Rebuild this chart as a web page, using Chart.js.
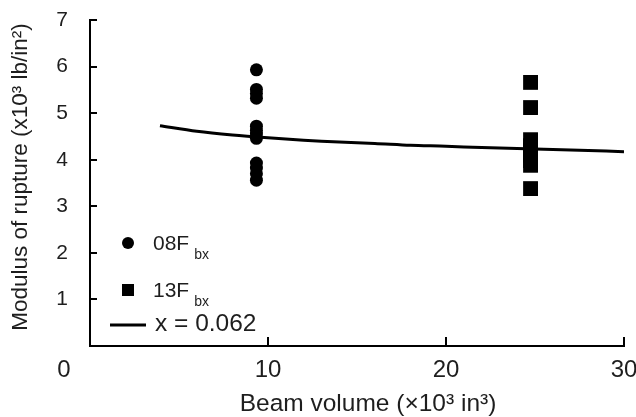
<!DOCTYPE html>
<html>
<head>
<meta charset="utf-8">
<script src="https://cdn.jsdelivr.net/npm/chart.js@4/dist/chart.umd.min.js"></script>
<style>
  html, body { margin: 0; padding: 0; background: #fff; }
  #wrap { width: 636px; height: 417px; }
</style>
</head>
<body>
<div id="wrap"><canvas id="c" width="636" height="417"></canvas></div>
<script>
// Beam volume (x10^3 in^3) and modulus of rupture (x10^3 lb/in^2)
const volume08 = 9.35;
const mor08 = [5.93, 5.51, 5.42, 5.32, 4.72, 4.63, 4.55, 4.46, 3.93, 3.82, 3.70, 3.56];
const volume13 = 24.75;
const mor13 = [5.66, 5.12, 4.43, 4.30, 4.20, 4.10, 3.98, 3.88, 3.38];
const curveVolume = [3.93, 6, 8, 10, 12, 14, 16, 18, 20, 22, 24, 26, 28, 30];
const curveMor = [4.73, 4.61, 4.53, 4.47, 4.42, 4.38, 4.35, 4.31, 4.29, 4.26, 4.24, 4.22, 4.20, 4.17];
const xTicks = [0, 10, 20, 30];
const yTicks = [0, 1, 2, 3, 4, 5, 6, 7];
const xTitle = 'Beam volume (×10³ in³)';
const yTitle = 'Modulus of rupture (x10³ lb/in²)';

const INK = '#1e1e1e';
const FONT = '"Liberation Sans", Arial, sans-serif';

// Inward tick marks, axis titles, the corner "0" label and the legend with subscripts
const decor = {
  id: 'decor',
  afterDraw(chart) {
    const { ctx, chartArea: a, scales: { x, y } } = chart;
    ctx.save();
    ctx.strokeStyle = '#000';
    ctx.lineWidth = 2;
    yTicks.forEach(v => {
      if (v === 0) return;
      const py = Math.round(y.getPixelForValue(v));
      ctx.beginPath(); ctx.moveTo(a.left, py); ctx.lineTo(a.left + 7, py); ctx.stroke();
    });
    xTicks.forEach(v => {
      if (v === 0) return;
      const px = Math.round(x.getPixelForValue(v));
      ctx.beginPath(); ctx.moveTo(px, a.bottom); ctx.lineTo(px, a.bottom - 9); ctx.stroke();
    });

    ctx.fillStyle = INK;
    ctx.font = '24px ' + FONT;
    ctx.textAlign = 'center';
    ctx.textBaseline = 'middle';
    ctx.fillText('0', x.getPixelForValue(0) - 26, a.bottom + 24.5);

    // axis titles
    ctx.font = '24.5px ' + FONT;
    ctx.fillText(xTitle, 368, 404);
    ctx.save();
    ctx.translate(21, 177);
    ctx.rotate(-Math.PI / 2);
    ctx.font = '22.5px ' + FONT;
    ctx.fillText(yTitle, 0, 0);
    ctx.restore();

    // legend
    ctx.textAlign = 'left';
    ctx.textBaseline = 'alphabetic';
    const lx = a.left + 38;
    const tx = a.left + 63;
    const rows = [
      { label: '08F', sub: 'bx', cy: 243, marker: 'circle' },
      { label: '13F', sub: 'bx', cy: 290, marker: 'square' }
    ];
    rows.forEach(r => {
      ctx.fillStyle = '#000';
      if (r.marker === 'circle') {
        ctx.beginPath(); ctx.arc(lx, r.cy, 6, 0, Math.PI * 2); ctx.fill();
      } else {
        ctx.fillRect(lx - 6, r.cy - 6, 12, 12);
      }
      ctx.fillStyle = INK;
      ctx.font = '21px ' + FONT;
      const base = r.cy + 7;
      ctx.fillText(r.label, tx, base);
      const w = ctx.measureText(r.label).width;
      ctx.font = '14px ' + FONT;
      ctx.fillText(r.sub, tx + w + 5, base + 9);
    });
    ctx.strokeStyle = '#000';
    ctx.lineWidth = 3;
    ctx.beginPath(); ctx.moveTo(lx - 18, 325); ctx.lineTo(lx + 18, 325); ctx.stroke();
    ctx.fillStyle = INK;
    ctx.font = '24.5px ' + FONT;
    ctx.fillText('x = 0.062', tx + 2, 330.5);
    ctx.restore();
  }
};

new Chart(document.getElementById('c'), {
  type: 'scatter',
  data: {
    datasets: [
      {
        label: 'x = 0.062',
        type: 'line',
        data: curveVolume.map((v, i) => ({ x: v, y: curveMor[i] })),
        borderColor: '#000',
        borderWidth: 3,
        pointRadius: 0,
        tension: 0.3,
        fill: false,
        order: 2
      },
      {
        label: '08Fbx',
        data: mor08.map(m => ({ x: volume08, y: m })),
        pointStyle: 'circle',
        pointRadius: 6.5,
        backgroundColor: '#000',
        borderColor: '#000',
        borderWidth: 0,
        order: 1
      },
      {
        label: '13Fbx',
        data: mor13.map(m => ({ x: volume13, y: m })),
        pointStyle: 'rect',
        pointRadius: 10.5,
        backgroundColor: '#000',
        borderColor: '#000',
        borderWidth: 0,
        order: 1
      }
    ]
  },
  options: {
    responsive: false,
    animation: false,
    devicePixelRatio: 1,
    layout: { padding: { top: 20, right: 12, left: 0, bottom: 0 } },
    plugins: { legend: { display: false }, tooltip: { enabled: false } },
    scales: {
      x: {
        type: 'linear',
        min: 0, max: 30,
        afterBuildTicks: s => { s.ticks = xTicks.map(v => ({ value: v })); },
        afterFit: s => { s.height = 71; s.paddingLeft = 0; s.paddingRight = 0; },
        grid: { display: false, drawTicks: false },
        border: { display: true, color: '#000', width: 2 },
        ticks: {
          padding: 10,
          color: INK,
          font: { family: FONT, size: 24 },
          callback: v => (v === 0 ? '' : String(v))
        },
        title: { display: false }
      },
      y: {
        type: 'linear',
        min: 0, max: 7,
        afterBuildTicks: s => { s.ticks = yTicks.map(v => ({ value: v })); },
        afterFit: s => { s.width = 90; s.paddingTop = 0; s.paddingBottom = 0; },
        grid: { display: false, drawTicks: false },
        border: { display: true, color: '#000', width: 2 },
        ticks: {
          padding: 22,
          color: INK,
          font: { family: FONT, size: 21 },
          callback: v => (v === 0 ? '' : String(v))
        },
        title: { display: false }
      }
    }
  },
  plugins: [decor]
});
</script>
</body>
</html>
